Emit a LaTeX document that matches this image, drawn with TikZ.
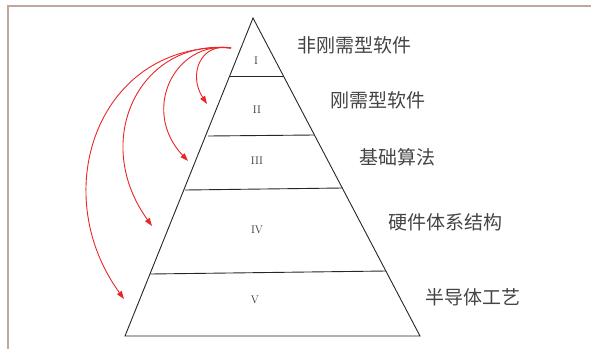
\documentclass[tikz,border=0pt]{standalone}
\usepackage{fontspec}
\newfontfamily\cjk{Noto Sans CJK SC}
\usetikzlibrary{arrows.meta}
\definecolor{framec}{HTML}{BFA99D}
\definecolor{arrowred}{HTML}{E8262A}
\definecolor{labelgray}{HTML}{444444}
\tikzset{
  layer/.style={draw=black!85, line width=0.9pt},
  roman/.style={font=\fontsize{11}{11}\selectfont, text=black!80, inner sep=0pt},
  cjklabel/.style={font=\cjk\fontsize{19}{19}\selectfont, text=labelgray, anchor=west, inner sep=0pt},
  redarrow/.style={draw=arrowred, line width=0.9pt, -{Triangle[length=8pt,width=5.5pt]}}
}
\begin{document}
\begin{tikzpicture}[x=1pt,y=-1pt]
\useasboundingbox (0,0) rectangle (591,349);
% frame
\draw[framec, line width=1.5pt] (8,349) -- (8,6) -- (591,6);
% pyramid
\coordinate (apex) at (253,18);
\coordinate (bl) at (125,336);
\coordinate (br) at (420,336);
\draw[layer, line join=miter] (bl) -- (apex) -- (br) -- cycle;
\coordinate (l1) at (230,76);  \coordinate (r1) at (283,76);
\coordinate (l2) at (208,136); \coordinate (r2) at (314,135);
\coordinate (l3) at (185,190); \coordinate (r3) at (342,188);
\coordinate (l4) at (150,274); \coordinate (r4) at (386,271);
\draw[layer] (l1) -- (r1);
\draw[layer] (l2) -- (r2);
\draw[layer] (l3) -- (r3);
\draw[layer] (l4) -- (r4);
% roman labels
\node[roman] (n1) at (256,61) {I};
\node[roman] (n2) at (257,110) {II};
\node[roman] (n3) at (257,161) {III};
\node[roman] (n4) at (257,230) {IV};
\node[roman] (n5) at (255,300) {V};
% chinese labels
\node[cjklabel] (t1) at (297,45) {非刚需型软件};
\node[cjklabel] (t2) at (330,100) {刚需型软件};
\node[cjklabel] (t3) at (359,157) {基础算法};
\node[cjklabel] (t4) at (388,222) {硬件体系结构};
\node[cjklabel] (t5) at (425,297) {半导体工艺};
% red arrows
\coordinate (s) at (231,48);
\coordinate (e1) at (207,104);
\coordinate (e2) at (188,161);
\coordinate (e3) at (152,226);
\coordinate (e4) at (124,299);
\draw[redarrow] (s) .. controls (200,42) and (188,75) .. (e1);
\draw[redarrow] (s) .. controls (175,40) and (140,110) .. (e2);
\draw[redarrow] (s) .. controls (140,38) and (90,140) .. (e3);
\draw[redarrow] (s) .. controls (100,40) and (45,190) .. (e4);
\end{tikzpicture}
\end{document}
